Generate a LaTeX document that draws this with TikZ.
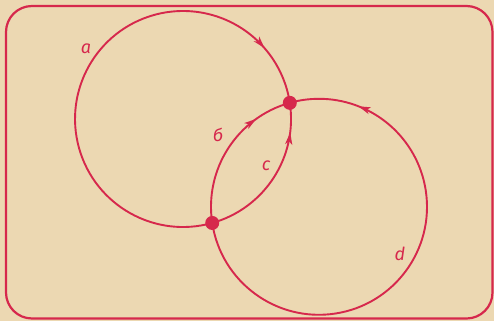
\documentclass[tikz,border=0pt]{standalone}
\usepackage{fontspec}
\setmainfont{Fira Sans}
\usetikzlibrary{arrows.meta,decorations.markings}
\definecolor{paper}{RGB}{236,216,178}
\definecolor{ink}{RGB}{214,40,76}
\begin{document}
\begin{tikzpicture}[x=1pt,y=1pt,
  edge/.style={draw=ink, line width=1.9pt},
  vertex/.style={circle, fill=ink, minimum size=14pt, inner sep=0pt},
  lbl/.style={text=ink, inner sep=0pt, font=\fontsize{18}{18}\selectfont\itshape},
  tipat/.style={postaction={decorate}, decoration={markings, mark=at position #1 with {\arrow{Stealth[length=12pt,width=7pt,inset=3pt]}}}}
]
\fill[paper] (0,0) rectangle (494,-321);
\useasboundingbox (0,0) rectangle (494,-321);
\draw[ink, line width=2.2pt, rounded corners=26pt] (6,-6) rectangle (492.5,-318.5);
\node[vertex] (P) at (289.79,-102.85) {};
\node[vertex] (Q) at (212.22,-222.97) {};
% edge a
\draw[edge, tipat=0.883] (Q.center) arc[start angle=285.68, end angle=8.62, radius=108];
% edge c
\draw[edge, tipat=0.81] (Q.center) arc[start angle=-74.32, end angle=8.62, radius=108];
% edge b
\draw[edge, tipat=0.76] (Q.center) arc[start angle=188.62, end angle=105.68, radius=108];
% edge d
\draw[edge, tipat=0.866] (Q.center) arc[start angle=188.62, end angle=465.68, radius=108];
\node[lbl] (la) at (86,-49) {a};
\node[lbl] (lb) at (218,-135) {б};
\node[lbl] (lc) at (266,-166) {c};
\node[lbl] (ld) at (400,-254) {d};
\end{tikzpicture}
\end{document}
